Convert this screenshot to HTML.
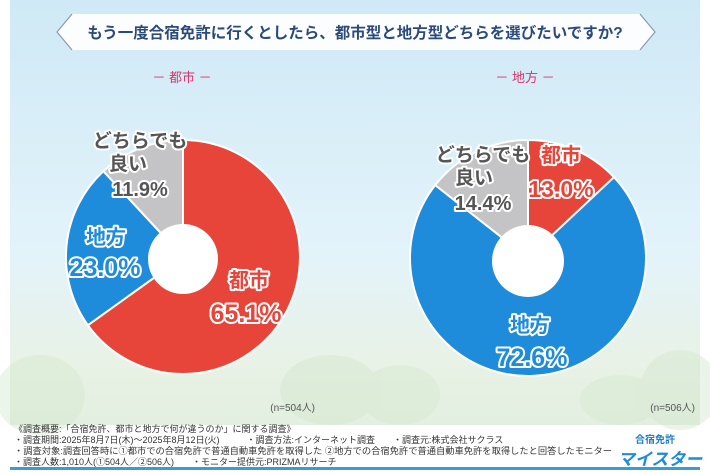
<!DOCTYPE html>
<html><head><meta charset="utf-8"><style>
html,body{margin:0;padding:0;background:#fff}
svg{display:block}
text{font-family:"Liberation Sans","Noto Sans CJK JP",sans-serif}
.o{paint-order:stroke;stroke:#fff;stroke-width:4;stroke-linejoin:round;font-weight:bold}
</style></head><body>
<svg width="710" height="474" viewBox="0 0 710 474" xmlns="http://www.w3.org/2000/svg">
<defs>
<linearGradient id="bg" x1="0" y1="0" x2="0" y2="1">
<stop offset="0" stop-color="#cfe9f6"/><stop offset="0.6" stop-color="#e3f3fa"/><stop offset="0.85" stop-color="#e8f2e6"/><stop offset="1" stop-color="#e3efe0"/>
</linearGradient>
</defs>
<rect width="710" height="474" fill="#fff"/>
<rect x="10" y="0" width="690" height="425" fill="url(#bg)"/>
<g fill="#d4e8cf" opacity="0.45">
<ellipse cx="40" cy="395" rx="45" ry="40"/><ellipse cx="330" cy="390" rx="50" ry="35"/><ellipse cx="400" cy="395" rx="40" ry="30"/><ellipse cx="680" cy="390" rx="40" ry="40"/><ellipse cx="620" cy="400" rx="40" ry="25"/>
</g>
<path d="M72,14 L640,14 L655,32 L640,50 L72,50 L57,32 Z" fill="#fff" opacity="0.9"/>
<path d="M72,14 L57,32 L72,50 M640,14 L655,32 L640,50" fill="none" stroke="#8a9bb0" stroke-width="1.2"/>
<text x="355" y="38" font-size="15.5" text-anchor="middle" fill="#2b4a7a" font-weight="bold">もう一度合宿免許に行くとしたら、都市型と地方型どちらを選びたいですか?</text>
<text x="182" y="82" font-size="13" text-anchor="middle" fill="#d6336c">－ 都市 －</text>
<text x="525" y="82" font-size="13" text-anchor="middle" fill="#d6336c">－ 地方 －</text>
<g stroke="#fff" stroke-width="2">
<path d="M183,257 L183,140 A117,117 0 1 1 87.9,325.2 Z" fill="#e8453a"/>
<path d="M183,257 L87.9,325.2 A117,117 0 0 1 103.4,171.2 Z" fill="#1f8bdb"/>
<path d="M183,257 L103.4,171.2 A117,117 0 0 1 183,140 Z" fill="#c4c4c6"/>
<path d="M528,258 L528,140 A118,118 0 0 1 614,177.2 Z" fill="#e8453a"/>
<path d="M528,258 L614,177.2 A118,118 0 1 1 435.2,185.1 Z" fill="#1f8bdb"/>
<path d="M528,258 L435.2,185.1 A118,118 0 0 1 528,140 Z" fill="#c4c4c6"/>
</g>
<circle cx="183" cy="259" r="35" fill="#fff"/>
<circle cx="528" cy="261" r="36" fill="#fff"/>
<text class="o" x="140" y="147" font-size="19" text-anchor="middle" fill="#555">どちらでも</text>
<text class="o" x="128" y="170" font-size="19" text-anchor="middle" fill="#555">良い</text>
<text class="o" x="140" y="196" font-size="20" text-anchor="middle" fill="#555">11.9%</text>
<text class="o" x="106" y="244" font-size="20" text-anchor="middle" fill="#1f8bdb">地方</text>
<text class="o" x="105" y="276" font-size="25" text-anchor="middle" fill="#1f8bdb">23.0%</text>
<text class="o" x="249" y="287" font-size="20" text-anchor="middle" fill="#e8453a">都市</text>
<text class="o" x="246" y="322" font-size="25" text-anchor="middle" fill="#e8453a">65.1%</text>
<text class="o" x="483" y="161" font-size="19" text-anchor="middle" fill="#555">どちらでも</text>
<text class="o" x="474" y="184" font-size="19" text-anchor="middle" fill="#555">良い</text>
<text class="o" x="483" y="210" font-size="20" text-anchor="middle" fill="#555">14.4%</text>
<text class="o" x="561" y="162" font-size="20" text-anchor="middle" fill="#e8453a">都市</text>
<text class="o" x="561" y="197" font-size="23" text-anchor="middle" fill="#e8453a">13.0%</text>
<text class="o" x="530" y="332" font-size="20" text-anchor="middle" fill="#1f8bdb">地方</text>
<text class="o" x="532" y="366" font-size="25" text-anchor="middle" fill="#1f8bdb">72.6%</text>
<text x="315" y="411" font-size="10" text-anchor="end" fill="#555">(n=504人)</text>
<text x="695" y="411" font-size="10" text-anchor="end" fill="#555">(n=506人)</text>
<g font-size="9" fill="#333">
<text x="14" y="432">《調査概要:「合宿免許、都市と地方で何が違うのか」に関する調査》</text>
<text x="14" y="443">・調査期間:2025年8月7日(木)～2025年8月12日(火)　　　・調査方法:インターネット調査　　・調査元:株式会社サクラス</text>
<text x="14" y="454" textLength="598" lengthAdjust="spacingAndGlyphs">・調査対象:調査回答時に①都市での合宿免許で普通自動車免許を取得した ②地方での合宿免許で普通自動車免許を取得したと回答したモニター</text>
<text x="14" y="465">・調査人数:1,010人(①504人／②506人)　　・モニター提供元:PRIZMAリサーチ</text>
</g>
<text x="655" y="443" font-size="10" text-anchor="middle" fill="#1f7fc8" font-weight="bold">合宿免許</text>
<text x="660" y="465" font-size="17" text-anchor="middle" fill="#1f8bdb" font-weight="bold" font-style="italic">マイスター</text>
<rect x="10" y="467" width="690" height="3" fill="#3a9bd5"/>
</svg>
</body></html>
